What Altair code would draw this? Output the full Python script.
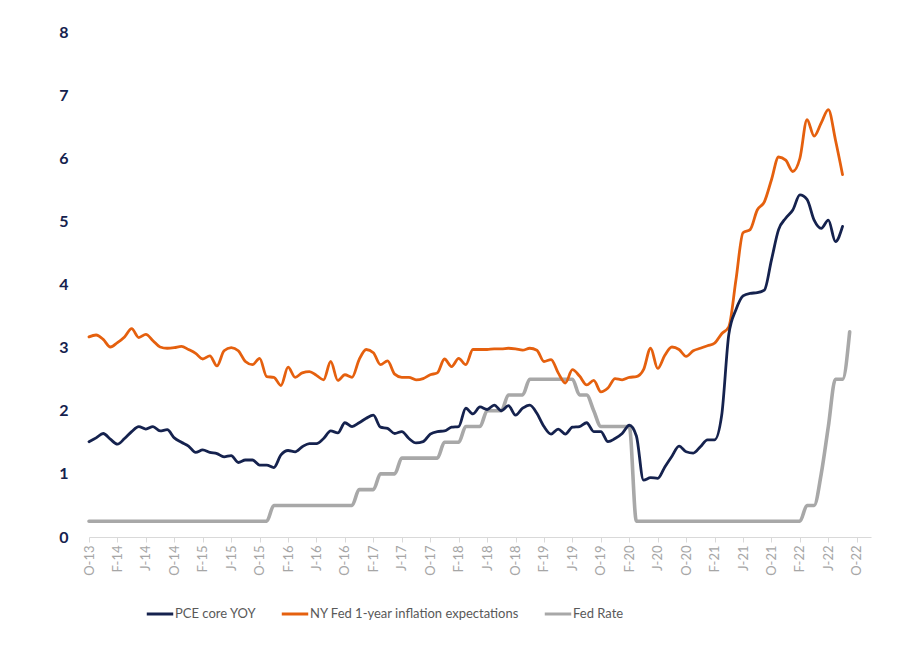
import altair as alt
import pandas as pd

TICK_LABELS = ["O-13", "F-14", "J-14", "O-14", "F-15", "J-15", "O-15", "F-16", "J-16",
               "O-16", "F-17", "J-17", "O-17", "F-18", "J-18", "O-18", "F-19", "J-19",
               "O-19", "F-20", "J-20", "O-20", "F-21", "J-21", "O-21", "F-22", "J-22", "O-22"]

SERIES = ["PCE core YOY", "NY Fed 1-year inflation expectations", "Fed Rate"]
COLORS = ["#15224E", "#E5600E", "#A8A8A8"]

# monthly values, starting Oct 2013
PCE = [1.51, 1.57, 1.64, 1.55, 1.47, 1.56, 1.67, 1.75, 1.71, 1.75,
       1.68, 1.70, 1.57, 1.50, 1.44, 1.34, 1.38, 1.34, 1.32, 1.27,
       1.29, 1.18, 1.22, 1.22, 1.14, 1.14, 1.10, 1.30, 1.37, 1.35,
       1.43, 1.48, 1.48, 1.56, 1.68, 1.65, 1.81, 1.75, 1.81, 1.88,
       1.93, 1.74, 1.72, 1.64, 1.67, 1.56, 1.49, 1.51, 1.63, 1.67,
       1.68, 1.74, 1.75, 2.04, 1.95, 2.06, 2.02, 2.09, 2.00, 2.08,
       1.93, 2.04, 2.09, 1.96, 1.75, 1.63, 1.71, 1.63, 1.74, 1.75,
       1.81, 1.67, 1.67, 1.51, 1.56, 1.64, 1.77, 1.60, 0.90, 0.94,
       0.93, 1.11, 1.28, 1.44, 1.35, 1.33, 1.43, 1.54, 1.54, 1.93,
       3.21, 3.60, 3.82, 3.86, 3.87, 3.91, 4.39, 4.87, 5.05, 5.18,
       5.42, 5.35, 5.02, 4.89, 5.02, 4.68, 4.92]

NYFED = [3.17, 3.20, 3.13, 3.01, 3.08, 3.17, 3.30, 3.16, 3.21, 3.11,
         3.01, 2.99, 3.00, 3.02, 2.97, 2.91, 2.82, 2.87, 2.71, 2.95,
         3.00, 2.95, 2.78, 2.73, 2.83, 2.54, 2.53, 2.40, 2.69, 2.53,
         2.60, 2.62, 2.56, 2.49, 2.78, 2.48, 2.57, 2.53, 2.81, 2.97,
         2.92, 2.73, 2.79, 2.58, 2.53, 2.53, 2.49, 2.51, 2.57, 2.60,
         2.82, 2.70, 2.83, 2.73, 2.97, 2.97, 2.97, 2.98, 2.98, 2.99,
         2.98, 2.96, 2.99, 2.96, 2.78, 2.81, 2.60, 2.44, 2.65, 2.55,
         2.41, 2.48, 2.30, 2.36, 2.51, 2.49, 2.53, 2.54, 2.65, 2.99,
         2.67, 2.88, 3.01, 2.97, 2.86, 2.95, 2.99, 3.03, 3.07, 3.22,
         3.33, 4.07, 4.82, 4.87, 5.18, 5.31, 5.66, 6.02, 5.97, 5.79,
         6.00, 6.61, 6.35, 6.56, 6.77, 6.29, 5.74]

FED = [0.25, 0.25, 0.25, 0.25, 0.25, 0.25, 0.25, 0.25, 0.25, 0.25,
       0.25, 0.25, 0.25, 0.25, 0.25, 0.25, 0.25, 0.25, 0.25, 0.25,
       0.25, 0.25, 0.25, 0.25, 0.25, 0.25, 0.50, 0.50, 0.50, 0.50,
       0.50, 0.50, 0.50, 0.50, 0.50, 0.50, 0.50, 0.50, 0.75, 0.75,
       0.75, 1.00, 1.00, 1.00, 1.25, 1.25, 1.25, 1.25, 1.25, 1.25,
       1.50, 1.50, 1.50, 1.75, 1.75, 1.75, 2.00, 2.00, 2.00, 2.25,
       2.25, 2.25, 2.50, 2.50, 2.50, 2.50, 2.50, 2.50, 2.50, 2.25,
       2.25, 2.00, 1.75, 1.75, 1.75, 1.75, 1.75, 0.25, 0.25, 0.25,
       0.25, 0.25, 0.25, 0.25, 0.25, 0.25, 0.25, 0.25, 0.25, 0.25,
       0.25, 0.25, 0.25, 0.25, 0.25, 0.25, 0.25, 0.25, 0.25, 0.25,
       0.25, 0.50, 0.50, 1.00, 1.75, 2.50, 2.50, 3.25]

rows = []
for name, vals in zip(SERIES, [PCE, NYFED, FED]):
    for i, v in enumerate(vals):
        rows.append({"m": i, "value": v, "series": name})
df = pd.DataFrame(rows)

label_expr = "[" + ",".join("'%s'" % t for t in TICK_LABELS) + "][round(datum.value/4)]"

x_enc = alt.X("m:Q",
              scale=alt.Scale(domain=[0, 110], nice=False, zero=False),
              axis=alt.Axis(values=list(range(0, 109, 4)), labelExpr=label_expr,
                            labelAngle=270, title=None, grid=False,
                            domainColor="#D9D9D9", tickColor="#D9D9D9", tickSize=5,
                            labelColor="#A6A6A6", labelFont="Lato", labelFontSize=13,
                            labelPadding=3))
y_enc = alt.Y("value:Q",
              scale=alt.Scale(domain=[0, 8], nice=False),
              axis=alt.Axis(values=list(range(0, 9)), title=None, grid=False,
                            domain=False, ticks=False, labelColor="#15224E",
                            labelFontWeight="bold", labelFontSize=16, labelFont="Lato",
                            labelPadding=21))
color_enc = alt.Color("series:N",
                      scale=alt.Scale(domain=SERIES, range=COLORS),
                      legend=alt.Legend(title=None, orient="none", legendX=56, legendY=567,
                                        direction="horizontal", symbolType="stroke",
                                        symbolSize=700, symbolStrokeWidth=3,
                                        labelFont="Lato", labelFontSize=13,
                                        labelColor="#595959", columnPadding=18,
                                        labelOffset=0, labelLimit=0))

def layer(name, width):
    return alt.Chart(df).transform_filter(alt.datum.series == name).mark_line(
        interpolate="monotone", strokeWidth=width, strokeCap="round"
    ).encode(x=x_enc, y=y_enc, color=color_enc)

chart = alt.layer(
    layer("Fed Rate", 3.6),
    layer("NY Fed 1-year inflation expectations", 2.8),
    layer("PCE core YOY", 2.8),
).properties(
    width=782, height=505,
    autosize=alt.AutoSizeParams(type="none"),
    padding={"left": 81, "top": 24, "right": 20, "bottom": 100},
    background="white",
).configure_view(stroke=None)

chart.save("out.html", embed_options={"renderer": "svg", "actions": False})
